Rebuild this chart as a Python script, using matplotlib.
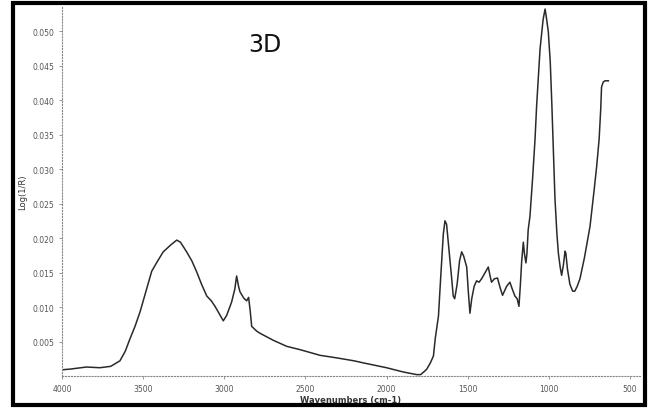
import numpy as np
import matplotlib
matplotlib.use("Agg")
import matplotlib.pyplot as plt
from matplotlib.patches import Rectangle

# spectrum (wavenumber, log(1/R))
wavenumbers = [4000, 3950, 3850, 3766, 3700, 3643, 3610, 3581, 3550, 3519,
               3480, 3447, 3410, 3376, 3330, 3293, 3270, 3232, 3200, 3170,
               3140, 3108, 3080, 3057, 3030, 3006, 2985, 2955, 2935, 2924,
               2912, 2903, 2880, 2862, 2850, 2840, 2831, 2800, 2780, 2700,
               2615, 2530, 2410, 2300, 2200, 2143, 2000, 1900, 1814, 1790,
               1765, 1752, 1730, 1711, 1700, 1680, 1665, 1650, 1640, 1630,
               1619, 1600, 1589, 1580, 1565, 1550, 1537, 1525, 1506, 1495,
               1486, 1475, 1460, 1445, 1430, 1414, 1390, 1373, 1360, 1353,
               1335, 1316, 1300, 1285, 1260, 1240, 1225, 1209, 1195, 1184,
               1175, 1167, 1157, 1150, 1141, 1135, 1127, 1116, 1100, 1085,
               1075, 1054, 1035, 1023, 1015, 1003, 991, 981, 970, 962,
               950, 941, 930, 921, 910, 900, 895, 885, 870, 853,
               840, 825, 808, 780, 746, 720, 705, 690, 680, 675,
               665, 654, 633]
absorbance = [0.0009, 0.0010, 0.0013, 0.0012, 0.0014, 0.0022, 0.0036, 0.0054, 0.0072, 0.0093,
              0.0125, 0.0152, 0.0167, 0.0180, 0.0190, 0.0197, 0.0194, 0.0180, 0.0167, 0.0151,
              0.0133, 0.0116, 0.0109, 0.0101, 0.0090, 0.0080, 0.0088, 0.0107, 0.0126, 0.0145,
              0.0130, 0.0122, 0.0113, 0.0109, 0.0114, 0.0094, 0.0072, 0.0065, 0.0062, 0.0052,
              0.0043, 0.0038, 0.0030, 0.0026, 0.0022, 0.0019, 0.0012, 0.0006, 0.0002, 0.0002,
              0.0007, 0.0010, 0.0019, 0.0029, 0.0054, 0.0087, 0.0148, 0.0206, 0.0225, 0.0220,
              0.0193, 0.0145, 0.0116, 0.0112, 0.0133, 0.0167, 0.0180, 0.0174, 0.0158, 0.0119,
              0.0091, 0.0112, 0.0130, 0.0138, 0.0136, 0.0141, 0.0151, 0.0158, 0.0143, 0.0136,
              0.0141, 0.0142, 0.0128, 0.0117, 0.0130, 0.0136, 0.0126, 0.0116, 0.0112, 0.0101,
              0.0133, 0.0167, 0.0194, 0.0177, 0.0164, 0.0177, 0.0212, 0.0232, 0.0286, 0.0343,
              0.0392, 0.0474, 0.0517, 0.0532, 0.0520, 0.0499, 0.0455, 0.0392, 0.0314, 0.0257,
              0.0206, 0.0178, 0.0158, 0.0146, 0.0161, 0.0181, 0.0178, 0.0155, 0.0133, 0.0123,
              0.0123, 0.0130, 0.0141, 0.0172, 0.0217, 0.0271, 0.0304, 0.0343, 0.0387, 0.0419,
              0.0426, 0.0428, 0.0428]

xticks = [4000, 3500, 3000, 2500, 2000, 1500, 1000, 500]
yticks = [0.005, 0.010, 0.015, 0.020, 0.025, 0.030, 0.035, 0.040, 0.045, 0.050]

W, H = 653, 410
fig = plt.figure(figsize=(W / 100, H / 100), dpi=100)
ax = fig.add_axes([62 / W, 1 - 377 / H, (640 - 62) / W, (377 - 8) / H])

ax.plot(wavenumbers, absorbance, color="#2a2a2a", linewidth=1.1)

ax.set_xlim(4000, 438)
ax.set_ylim(0, 0.0535)
ax.set_xticks(xticks)
ax.set_xticklabels([str(t) for t in xticks])
ax.set_yticks(yticks)
ax.set_yticklabels(["%.3f" % t for t in yticks])
ax.tick_params(labelsize=5.5, labelcolor="#555555", color="#888888",
               length=2, width=0.6)

for side in ("top", "right"):
    ax.spines[side].set_visible(False)
for side in ("left", "bottom"):
    ax.spines[side].set_linestyle(":")
    ax.spines[side].set_color("#888888")
    ax.spines[side].set_linewidth(0.8)

ax.set_xlabel("Wavenumbers (cm-1)", fontsize=6, fontweight="bold",
              color="#333333", labelpad=2)
ax.set_ylabel("Log(1/R)", fontsize=6, color="#333333", labelpad=4)

# big label inside the plot
fig.text(265 / W, 1 - 45 / H, "3D", fontsize=17, ha="center", va="center",
         color="#111111")

# outer black frame
fig.patches.append(Rectangle((13 / W, 4 / H), (645 - 13) / W, (406 - 4) / H,
                             transform=fig.transFigure, fill=False,
                             edgecolor="black", linewidth=3))

fig.savefig("out.png", dpi=100)
